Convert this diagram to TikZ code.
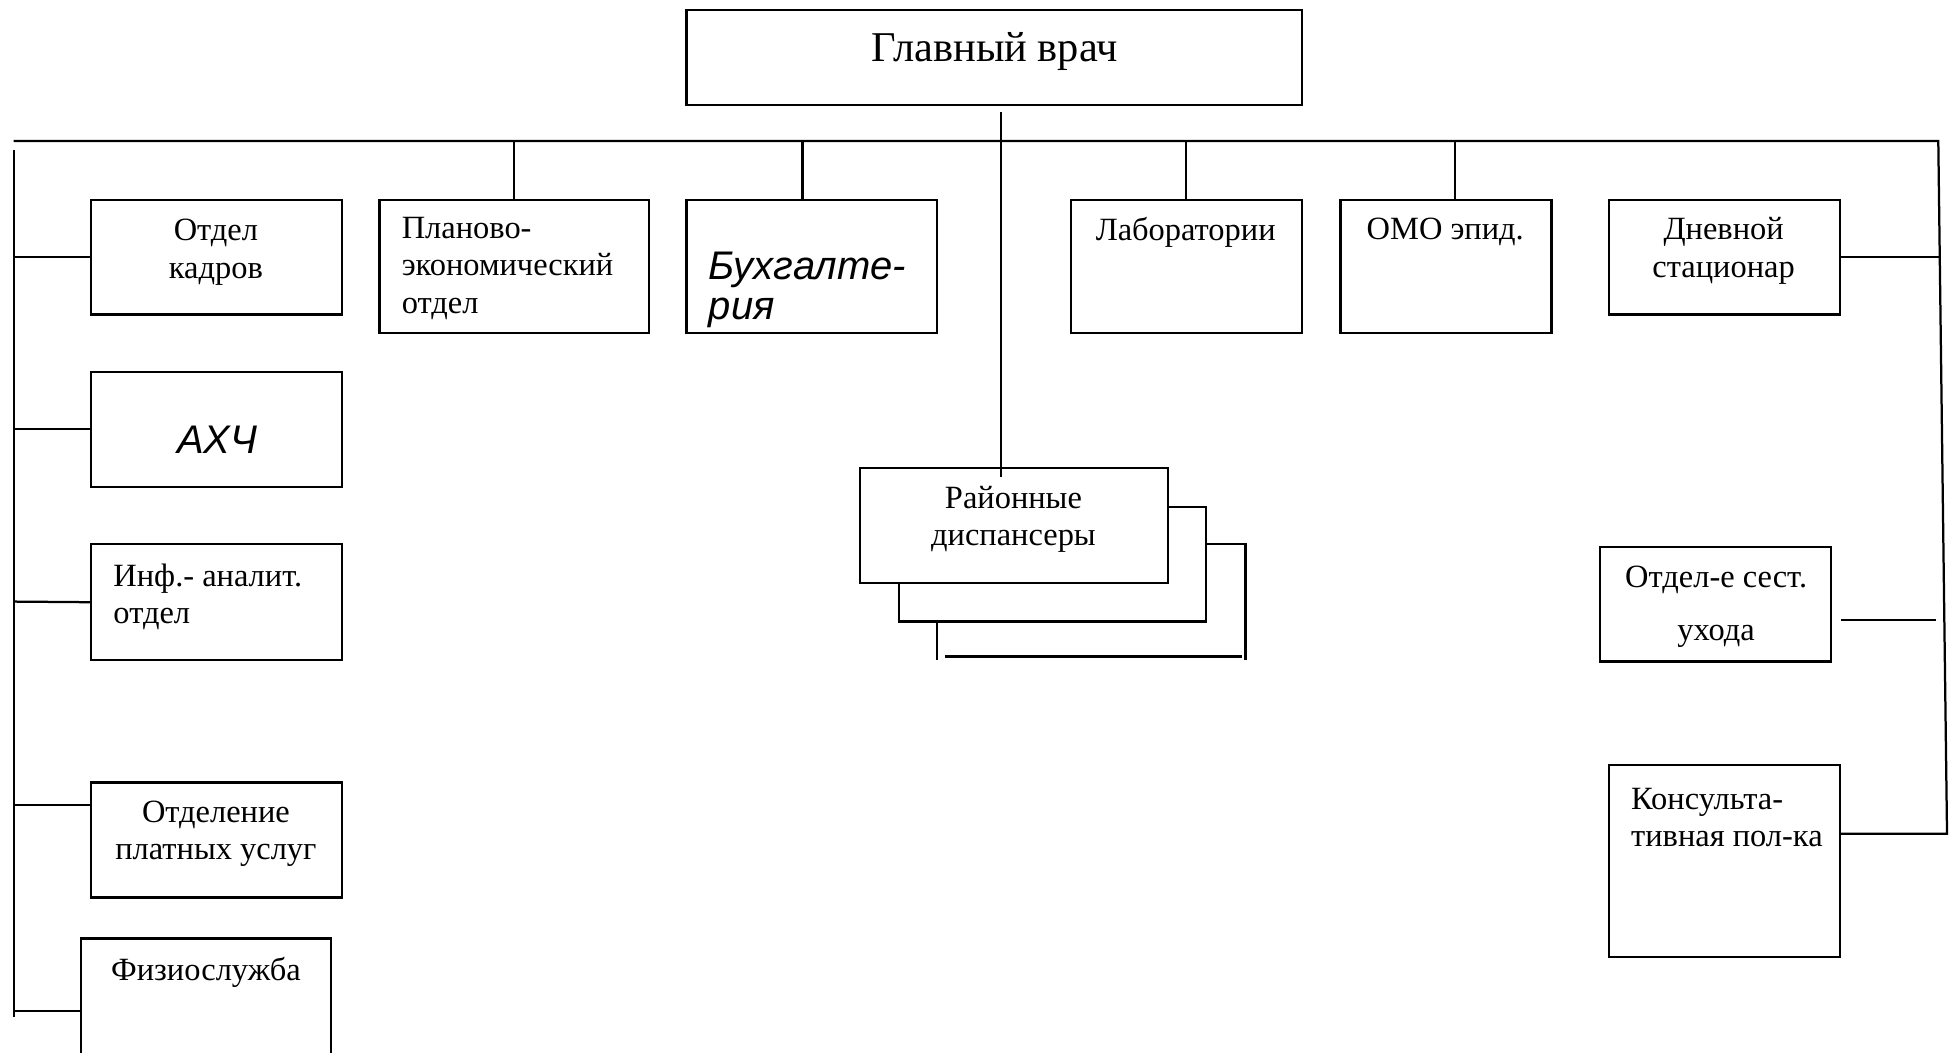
\documentclass[tikz,border=0pt]{standalone}
\usepackage{fontspec}
\setmainfont{Liberation Serif}
\setsansfont{Liberation Sans}
\begin{document}
\begin{tikzpicture}[x=0.5pt,y=-0.5pt,line width=0.9pt,
  box/.style={draw,line width=0.9pt,inner sep=0pt,outer sep=0pt,anchor=north west},
  txt/.style={inner sep=0pt,font=\fontsize{13}{15}\selectfont},
  sit/.style={inner sep=0pt,font=\fontsize{16}{16}\selectfont\sffamily\itshape},
  conn/.style={line width=0.9pt}]
\useasboundingbox (0,0) rectangle (1568,843);
\clip (0,0) rectangle (1568,843);
% boxes
\node[box,minimum width=246.5pt,minimum height=38pt] (glav) at (550,8) {};
\node[box,minimum width=100.5pt,minimum height=46pt] (kadry) at (73,160) {};
\node[box,minimum width=100.5pt,minimum height=46pt] (ahch) at (73,298) {};
\node[box,minimum width=100.5pt,minimum height=46.5pt] (inf) at (73,436) {};
\node[box,minimum width=100.5pt,minimum height=46pt] (plat) at (73,627) {};
\node[box,minimum width=100pt,minimum height=70pt] (fizio) at (65,752) {};
\node[box,minimum width=108pt,minimum height=53.5pt] (plan) at (304,160) {};
\node[box,minimum width=100.5pt,minimum height=53.5pt] (buh) at (550,160) {};
\node[box,minimum width=92.5pt,minimum height=53.5pt] (lab) at (858,160) {};
\node[box,minimum width=84.5pt,minimum height=53.5pt] (omo) at (1074,160) {};
\node[box,minimum width=92.5pt,minimum height=46pt] (dnev) at (1289,160) {};
\node[box,minimum width=123.5pt,minimum height=46pt] (rayon) at (689,375) {};
\node[box,minimum width=92.5pt,minimum height=46pt] (sest) at (1282,438) {};
\node[box,minimum width=92.5pt,minimum height=77pt] (kons) at (1289,613) {};
% stacked layers behind Районные диспансеры
\coordinate (r2a) at (936,406);
\coordinate (r2b) at (720,467);
\draw[conn] (r2a) -- (966,406) -- (966,498) -- (720,498) -- (r2b);
\coordinate (r3a) at (966,436);
\draw[conn] (r3a) -- (998,436) -- (998,529);
\coordinate (r3b) at (751,498);
\draw[conn] (r3b) -- (751,529);
\coordinate (r3c) at (757,526);
\coordinate (r3d) at (995,526);
\draw[conn] (r3c) -- (r3d);
% texts
\node[txt,font=\fontsize{17}{20}\selectfont] (tglav) at (797,41) {Главный врач};
\node[txt,align=center] (tkadry) at (173,202) {Отдел\\кадров};
\node[sit] (tahch) at (174,352) {АХЧ};
\node[txt,align=left,anchor=west] (tinf) at (90,478) {Инф.- аналит.\\отдел};
\node[txt,align=center] (tplat) at (173,668) {Отделение\\платных услуг};
\node[txt] (tfizio) at (165,779) {Физиослужба};
\node[txt,align=left,anchor=west] (tplan) at (321,215) {Планово-\\экономический\\отдел};
\node[sit,align=left,anchor=west] (tbuh) at (567,232) {Бухгалте-\\рия};
\node[txt] (tlab) at (950,186) {Лаборатории};
\node[txt] (tomo) at (1158,186) {ОМО эпид.};
\node[txt,align=center] (tdnev) at (1381,201) {Дневной\\стационар};
\node[txt,align=center] (trayon) at (812,416) {Районные\\диспансеры};
\node[txt,align=center,font=\fontsize{13}{21}\selectfont] (tsest) at (1375,486) {Отдел-е сест.\\ухода};
\node[txt,align=left,anchor=west] (tkons) at (1306,655) {Консульта-\\тивная пол-ка};
% connectors
\coordinate (g1) at (802,90);
\coordinate (g2) at (802,382);
\draw[conn] (g1) -- (g2);
\coordinate (busL) at (11,113);
\coordinate (busR) at (1553,113);
\coordinate (rvB) at (1560,668);
\draw[conn] (busL) -- (busR) -- (rvB) -- (kons.east |- rvB);
\coordinate (lvT) at (11,120);
\coordinate (lvB) at (11,815);
\draw[conn] (lvT) -- (lvB);
\draw[conn] (11,206) -- (kadry.west);
\draw[conn] (11,344) -- (ahch.west);
\draw[conn] (11,482) -- (inf.west);
\draw[conn] (11,645) -- (plat.west |- 0,645);
\draw[conn] (11,810) -- (fizio.west |- 0,810);
\draw[conn] (412,113) -- (plan.north);
\draw[conn] (643,113) -- (buh.north west -| 643,0);
\draw[conn] (950,113) -- (lab.north west -| 950,0);
\draw[conn] (1166,113) -- (omo.north west -| 1166,0);
\draw[conn] (dnev.east) -- (1554,206);
\coordinate (s1) at (1475,497);
\coordinate (s2) at (1551,497);
\draw[conn] (s1) -- (s2);
\end{tikzpicture}
\end{document}
